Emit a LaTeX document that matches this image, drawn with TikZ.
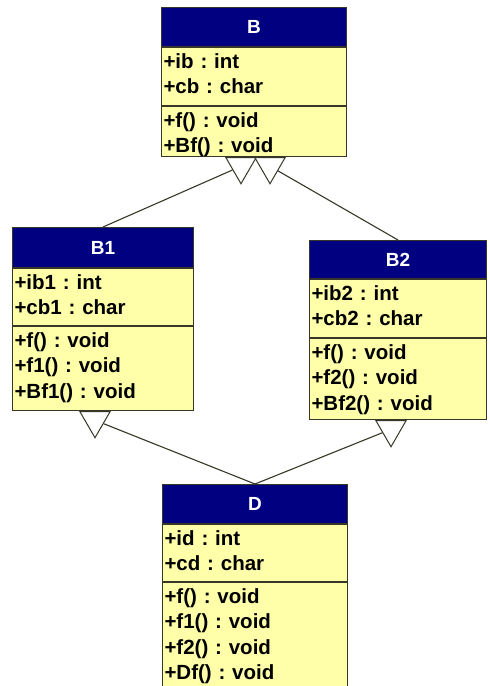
\documentclass[tikz,border=0pt]{standalone}
\usepackage{fontspec}
\setmainfont{Liberation Sans}
\frenchspacing
\usetikzlibrary{shapes.geometric, arrows.meta, positioning}

\definecolor{umlnavy}{RGB}{0,0,128}
\definecolor{umlyellow}{RGB}{255,255,170}
\definecolor{umlline}{RGB}{55,55,40}

\begin{document}
\begin{tikzpicture}[
  x=1pt, y=-1pt,
  node distance=0pt,
  title/.style={rectangle, draw=umlline, line width=1pt, fill=umlnavy, text=white, anchor=north west,
    inner sep=0pt, font=\fontsize{19}{22}\selectfont\bfseries},
  members/.style={rectangle, draw=umlline, line width=1pt, fill=umlyellow, align=left,
    inner xsep=2pt, inner ysep=0pt, text height=20.5pt,
    font=\fontsize{20.5}{25.5}\selectfont\bfseries},
  gen/.style={regular polygon, regular polygon sides=3, shape border rotate=180,
    draw=umlline, line width=1pt, fill=white, minimum size=35pt, inner sep=0pt, anchor=north},
  edge/.style={draw=umlline, line width=1.1pt}
]
\clip (0,0) rectangle (490,686);
\fill[white] (0,0) rectangle (490,686);

% Class B
\node[title, minimum width=185pt, minimum height=39pt] (B) at (161,7) {B};
\node[members, text width=181pt, text depth=37.5pt, below=of B] (B-attr) {+ib : int\\+cb : char};
\node[members, text width=181pt, text depth=29.5pt, below=of B-attr] (B-ops) {+f() : void\\+Bf() : void};

% Class B1
\node[title, minimum width=181pt, minimum height=40pt] (B1) at (12,227) {B1};
\node[members, text width=177pt, text depth=36.5pt, below=of B1] (B1-attr) {+ib1 : int\\+cb1 : char};
\node[members, text width=177pt, text depth=63.5pt, below=of B1-attr] (B1-ops) {+f() : void\\+f1() : void\\+Bf1() : void};

% Class B2
\node[title, minimum width=177pt, minimum height=38pt] (B2) at (309,240) {B2};
\node[members, text width=173pt, text depth=37.5pt, below=of B2] (B2-attr) {+ib2 : int\\+cb2 : char};
\node[members, text width=173pt, text depth=60.5pt, below=of B2-attr] (B2-ops) {+f() : void\\+f2() : void\\+Bf2() : void};

% Class D
\node[title, minimum width=185pt, minimum height=39pt] (D) at (162,484) {D};
\node[members, text width=181pt, text depth=36.5pt, below=of D] (D-attr) {+id : int\\+cd : char};
\node[members, text width=181pt, text depth=99.5pt, below=of D-attr] (D-ops) {+f() : void\\+f1() : void\\+f2() : void\\+Df() : void};

% Generalization heads
\node[gen] (B-gen1) at ([xshift=-13pt]B-ops.south) {};
\node[gen] (B-gen2) at ([xshift=16pt]B-ops.south) {};
\node[gen] (B1-gen) at ([xshift=-8pt]B1-ops.south) {};
\node[gen] (B2-gen) at ([xshift=-7pt]B2-ops.south) {};

% Arrows
\path[edge] (B1.north) -- (B-gen1);
\path[edge] (B2.north) -- (B-gen2);
\path[edge] (D.north) -- (B1-gen);
\path[edge] (D.north) -- (B2-gen);

\end{tikzpicture}
\end{document}
